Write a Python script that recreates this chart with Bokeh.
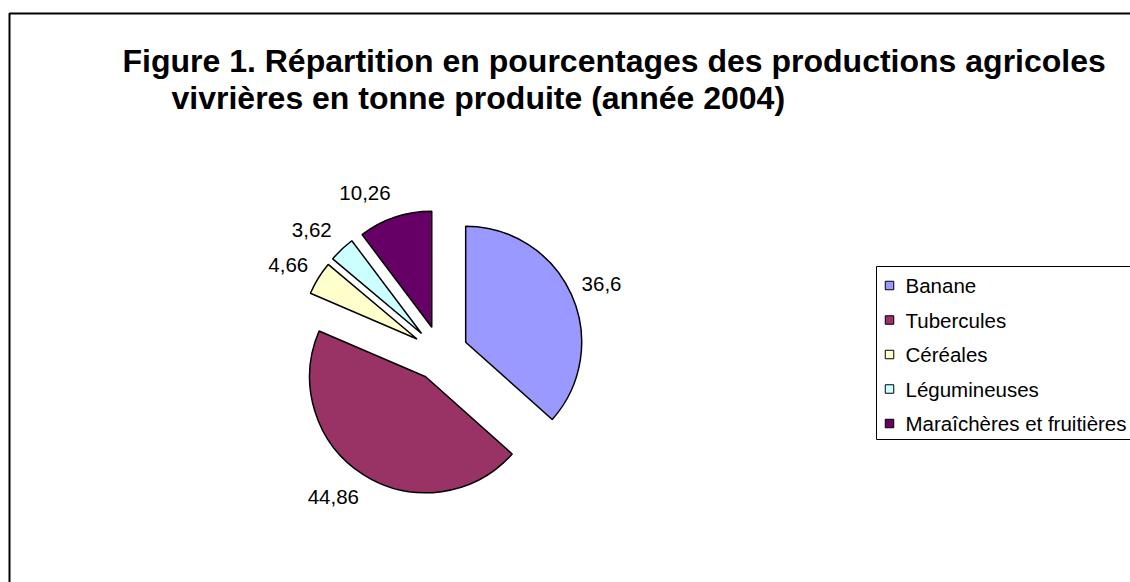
import numpy as np
from bokeh.plotting import figure
from bokeh.models import Range1d, Label
from bokeh.core.properties import value
from bokeh.embed import file_html
from bokeh.resources import INLINE

# ---- data ----
categories = ["Banane", "Tubercules", "Céréales", "Légumineuses", "Maraîchères et fruitières"]
values = [36.6, 44.86, 4.66, 3.62, 10.26]
value_labels = ["36,6", "44,86", "4,66", "3,62", "10,26"]
colors = ["#9999FF", "#993366", "#FFFFCC", "#CCFFFF", "#660066"]
title_lines = [
    "Figure 1. Répartition en pourcentages des productions agricoles",
    "vivrières en tonne produite (année 2004)",
]

FONT = "Liberation Sans"
W, H = 1130, 582

p = figure(width=W, height=H, output_backend="svg", toolbar_location=None,
           x_range=Range1d(0, W), y_range=Range1d(0, H),
           min_border=0, outline_line_color=None, background_fill_color="white",
           border_fill_color="white")
p.axis.visible = False
p.grid.visible = False


def sy(y):
    return H - y


# frame of the chart area (left and top edges visible)
p.line([9, 9, 1300], [sy(700), sy(13), sy(13)], line_color="black", line_width=2)

# ---- pie ----
cx, cy = 440.0, sy(353)
R = 116.0
explode = 27.6
vals = np.array(values, dtype=float)
frac = vals / vals.sum()
cum = np.concatenate([[0.0], np.cumsum(frac)])
t0 = 360 * cum[:-1]
t1 = 360 * cum[1:]
mid = np.radians((t0 + t1) / 2)
ux, uy = np.sin(mid), np.cos(mid)
vx = cx + explode * ux
vy = cy + explode * uy

p.wedge(x=vx, y=vy, radius=R,
        start_angle=np.radians(90 - t1), end_angle=np.radians(90 - t0),
        direction="anticlock", fill_color=colors, line_color="black", line_width=1.5)

# value labels, placed just outside the middle of each slice's arc
fs = 20.5
lx = cx + (explode + R) * ux + np.sign(ux) * 30
ly = cy + (explode + R) * uy + uy * 26
p.text(x=lx, y=ly, text=value_labels, text_font=value(FONT), text_font_size=f"{fs}px",
       text_align="center", text_baseline="middle", text_color="black")

# ---- title ----
p.add_layout(Label(x=122, y=sy(60), text=title_lines[0], text_font=FONT,
                   text_font_size="32px", text_font_style="bold", text_color="black",
                   text_baseline="alphabetic"))
p.add_layout(Label(x=171, y=sy(97), text=title_lines[1], text_font=FONT,
                   text_font_size="32px", text_font_style="bold", text_color="black",
                   text_baseline="alphabetic"))

# ---- legend ----
p.quad(left=[876], right=[1300], top=[sy(266)], bottom=[sy(439)],
       fill_color="white", line_color="black", line_width=1)
rows = np.arange(len(categories))
ry = sy(285 + 34.5 * rows)
p.rect(x=[889] * len(categories), y=ry, width=8.5, height=8.5,
       fill_color=colors, line_color="black", line_width=1)
p.text(x=[905] * len(categories), y=ry, text=categories, text_font=value(FONT),
       text_font_size=f"{fs}px", text_align="left", text_baseline="middle",
       text_color="black")

open("out.html", "w").write(file_html(p, INLINE))
